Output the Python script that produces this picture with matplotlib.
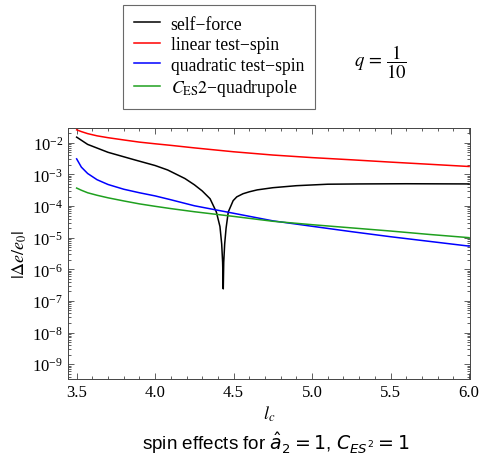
import matplotlib
matplotlib.use("Agg")
import matplotlib.pyplot as plt
from matplotlib.lines import Line2D
from matplotlib.ticker import LogLocator, MultipleLocator, NullFormatter, FormatStrFormatter

plt.rcParams['font.family'] = ['Liberation Serif', 'DejaVu Serif']
plt.rcParams['mathtext.fontset'] = 'stix'

# l_c grid for the smooth curves
lc = [3.5, 3.53, 3.57, 3.63, 3.7, 3.8, 3.9, 4.0, 4.1, 4.25, 4.5, 4.75,
      5.0, 5.25, 5.5, 5.75, 6.0]
linear_spin = [2.57e-2, 2.26e-2, 1.95e-2, 1.66e-2, 1.45e-2, 1.23e-2, 1.05e-2,
               9.3e-3, 8.3e-3, 6.9e-3, 5.2e-3, 4.1e-3, 3.4e-3, 2.9e-3,
               2.45e-3, 2.09e-3, 1.78e-3]
quadratic_spin = [3.1e-3, 1.7e-3, 1.07e-3, 6.8e-4, 4.8e-4, 3.4e-4, 2.63e-4,
                  2.09e-4, 1.58e-4, 1.02e-4, 5.9e-5, 3.4e-5, 2.29e-5, 1.55e-5,
                  1.07e-5, 7.6e-6, 5.4e-6]
ces2_quad = [3.7e-4, 3.16e-4, 2.63e-4, 2.19e-4, 1.82e-4, 1.45e-4, 1.17e-4,
             9.8e-5, 8.3e-5, 6.6e-5, 4.7e-5, 3.3e-5, 2.57e-5, 2.04e-5,
             1.62e-5, 1.26e-5, 1.0e-5]

# self-force changes sign near l_c = 4.434
lc_sf = [3.5, 3.57, 3.7, 3.87, 4.0, 4.08, 4.19, 4.25, 4.3, 4.35, 4.39, 4.413,
         4.424, 4.43, 4.434, 4.437, 4.443, 4.452, 4.466, 4.497, 4.52, 4.56,
         4.6, 4.65, 4.75, 4.9, 5.1, 5.3, 5.6, 6.0]
self_force = [1.51e-2, 8.9e-3, 5.0e-3, 2.88e-3, 1.91e-3, 1.38e-3, 7.4e-4,
              4.7e-4, 3.0e-4, 1.7e-4, 6.5e-5, 2.24e-5, 6.3e-6, 1.66e-6,
              2.4e-7, 1.66e-6, 6.3e-6, 2.0e-5, 6.5e-5, 1.48e-4, 1.95e-4,
              2.45e-4, 2.82e-4, 3.24e-4, 3.8e-4, 4.4e-4, 4.9e-4, 5.0e-4,
              5.07e-4, 5.0e-4]

labels = ['self\u2212force', 'linear test\u2212spin', 'quadratic test\u2212spin',
          r'$C_{\mathrm{ES}}2$' + '\u2212quadrupole']
colors = ['black', '#ff0000', '#0000ff', '#1fa01f']

fig = plt.figure(figsize=(4.8, 4.6), dpi=100)
ax = fig.add_axes([0.1417, 0.174, 0.8375, 0.5457])

ax.plot(lc_sf, self_force, color=colors[0], lw=1.1)
ax.plot(lc, linear_spin, color=colors[1], lw=1.1)
ax.plot(lc, quadratic_spin, color=colors[2], lw=1.1)
ax.plot(lc, ces2_quad, color=colors[3], lw=1.1)

ax.set_yscale('log')
ax.set_xlim(3.445, 6.006)
ax.set_ylim(3.4e-10, 2.95e-2)
ax.xaxis.set_major_locator(MultipleLocator(0.5))
ax.xaxis.set_minor_locator(MultipleLocator(0.1))
ax.xaxis.set_major_formatter(FormatStrFormatter('%.1f'))
ax.yaxis.set_major_locator(LogLocator(base=10, numticks=20))
ax.yaxis.set_minor_locator(LogLocator(base=10, subs=range(2, 10), numticks=20))
ax.yaxis.set_minor_formatter(NullFormatter())
ax.tick_params(which='both', direction='in', top=True, right=True,
               labelsize=12, width=0.6, color='#444444')
ax.tick_params(which='major', length=4)
ax.tick_params(which='minor', length=2)
for s in ax.spines.values():
    s.set_linewidth(0.7)
    s.set_color('#444444')

ax.set_ylabel(r'$|\Delta e/e_0|$', fontsize=13, labelpad=2)
ax.set_xlabel(r'$l_c$', fontsize=13, labelpad=3)

handles = [Line2D([], [], color=c, lw=1.1) for c in colors]
leg = fig.legend(handles, labels, loc='upper left',
                 bbox_to_anchor=(123 / 480, 1 - 6 / 460), fontsize=12.7,
                 frameon=True, fancybox=False, edgecolor='#444444',
                 borderpad=0.6, handlelength=1.5, handletextpad=0.6,
                 labelspacing=0.2, borderaxespad=0)
leg.get_frame().set_linewidth(0.8)

fig.text(380 / 480, 1 - 62 / 460, r'$q\, =\, \dfrac{1}{10}$', fontsize=13.5,
         ha='center', va='center')

fig.text(276 / 480, 1 - 443 / 460,
         r'spin effects for $\hat{a}_2 = 1$, $C_{ES^2} = 1$',
         family=['Liberation Sans', 'DejaVu Sans'], math_fontfamily='dejavusans',
         fontsize=13.6, ha='center', va='center')

fig.savefig('out.png', dpi=100)
